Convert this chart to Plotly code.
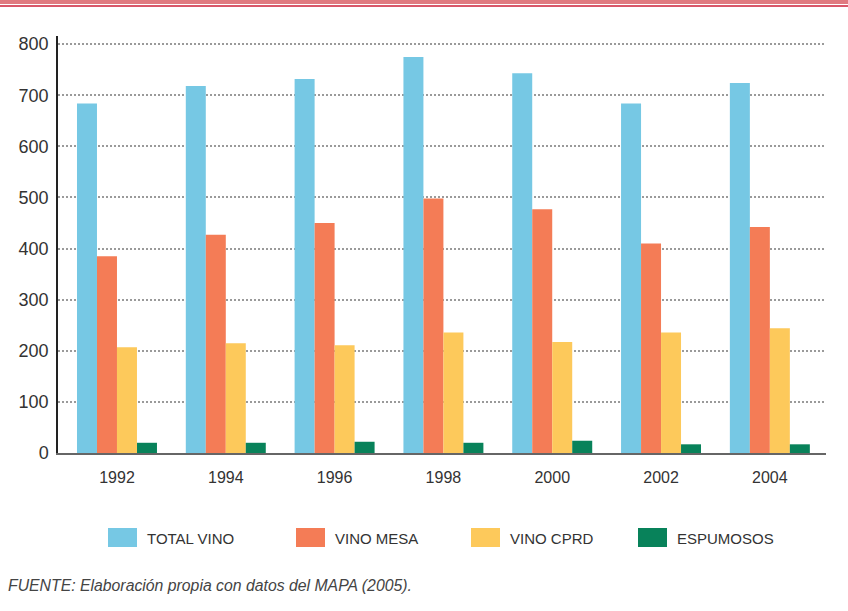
import plotly.graph_objects as go

years = ["1992", "1994", "1996", "1998", "2000", "2002", "2004"]
series_names = ["TOTAL VINO", "VINO MESA", "VINO CPRD", "ESPUMOSOS"]
total_vino = [684, 718, 732, 775, 743, 684, 724]
vino_mesa = [385, 427, 450, 498, 477, 410, 442]
vino_cprd = [207, 215, 211, 236, 217, 236, 244]
espumosos = [20, 20, 22, 20, 24, 17, 17]
y_ticks = [0, 100, 200, 300, 400, 500, 600, 700, 800]

colors = ["#76c8e4", "#f47c56", "#fdc95b", "#08825a"]
values = [total_vino, vino_mesa, vino_cprd, espumosos]

W, H = 848, 611
L, R, T, B = 58, 22, 36, 158
pw, ph = W - L - R, H - T - B


# pixel -> paper helpers
def px(x):
    return (x - L) / pw


def py(y):
    return (H - B - y) / ph


fig = go.Figure()
for name, vals, col in zip(series_names, values, colors):
    fig.add_trace(go.Bar(x=years, y=vals, name=name,
                         marker=dict(color=col, line=dict(width=0))))

shapes = []
# header bands
shapes.append(dict(type="rect", xref="paper", yref="paper", x0=px(0), x1=px(W),
                   y0=py(0), y1=py(4), fillcolor="#e07a80", line=dict(width=0), layer="above"))
shapes.append(dict(type="rect", xref="paper", yref="paper", x0=px(0), x1=px(W),
                   y0=py(5), y1=py(7), fillcolor="#d9576a", line=dict(width=0), layer="above"))

annotations = []
# legend boxes and labels
box_x = [108, 296, 471, 638]
for bx, name, col in zip(box_x, series_names, colors):
    shapes.append(dict(type="rect", xref="paper", yref="paper", x0=px(bx), x1=px(bx + 29),
                       y0=py(547), y1=py(528), fillcolor=col, line=dict(width=0)))
    annotations.append(dict(xref="paper", yref="paper", x=px(bx + 37), y=py(538),
                            text=name, showarrow=False, xanchor="left", yanchor="middle",
                            font=dict(size=15, color="#333333")))

annotations.append(dict(xref="paper", yref="paper", x=px(6), y=py(585),
                        text="<i>FUENTE: Elaboración propia con datos del MAPA (2005).</i>",
                        showarrow=False, xanchor="left", yanchor="middle",
                        font=dict(size=15.8, color="#444444")))

fig.update_layout(
    width=W, height=H,
    margin=dict(l=L, r=R, t=T, b=B),
    paper_bgcolor="white", plot_bgcolor="white",
    font=dict(family="Liberation Sans, Arial, sans-serif", color="#333333"),
    barmode="group", bargap=0.265, bargroupgap=0,
    showlegend=False,
    shapes=shapes,
    annotations=annotations,
    xaxis=dict(type="category", range=[-0.542, 6.516], showgrid=False,
               showline=True, linecolor="#666666", linewidth=2,
               ticks="", tickfont=dict(size=16, color="#333333"),
               ticklabelstandoff=9),
    yaxis=dict(range=[0, 816], tickvals=y_ticks, showgrid=True,
               gridcolor="#9a9a9a", gridwidth=2, griddash="2px,2px",
               zeroline=False, showline=True, linecolor="#222222", linewidth=1.5,
               ticks="", tickfont=dict(size=18, color="#333333"),
               ticklabelstandoff=4),
)

# page body has a default 8px margin; drop it so the figure sits at 0,0
fig.write_html("out.html", config={"displayModeBar": False},
               post_script="document.body.style.margin='0';")
